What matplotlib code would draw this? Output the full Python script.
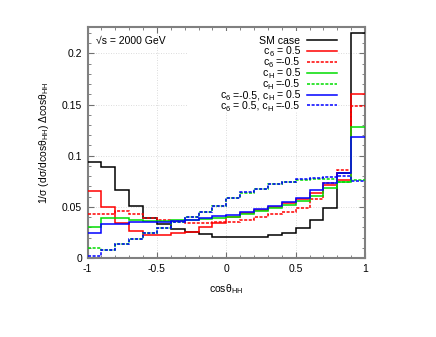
import numpy as np
import matplotlib
matplotlib.use("Agg")
import matplotlib.pyplot as plt
from matplotlib.ticker import MultipleLocator, FuncFormatter
from matplotlib.lines import Line2D
from matplotlib.patches import Rectangle

plt.rcParams['font.family'] = ['Liberation Sans', 'DejaVu Sans']
plt.rcParams['mathtext.fontset'] = 'custom'
plt.rcParams['mathtext.rm'] = 'Liberation Sans'
plt.rcParams['mathtext.it'] = 'Liberation Sans:italic'
plt.rcParams['axes.unicode_minus'] = False

edges = np.linspace(-1, 1, 21)

sm = [0.0935, 0.089, 0.0665, 0.0505, 0.039, 0.033, 0.0283, 0.0257, 0.0231, 0.0208,
      0.0207, 0.0207, 0.021, 0.0222, 0.0247, 0.0295, 0.0375, 0.049, 0.083, 0.22]
c6_p = [0.0658, 0.0502, 0.0345, 0.0261, 0.0225, 0.0225, 0.0244, 0.0257, 0.030, 0.034,
        0.040, 0.044, 0.047, 0.050, 0.054, 0.058, 0.064, 0.071, 0.076, 0.160]
c6_m = [0.043, 0.043, 0.046, 0.043, 0.039, 0.037, 0.036, 0.034, 0.034, 0.035,
        0.0355, 0.037, 0.040, 0.043, 0.045, 0.049, 0.058, 0.073, 0.086, 0.149]
cH_p = [0.0306, 0.0394, 0.0394, 0.037, 0.0365, 0.036, 0.037, 0.037, 0.038, 0.039,
        0.040, 0.043, 0.046, 0.049, 0.052, 0.056, 0.061, 0.068, 0.074, 0.128]
cH_m = [0.0095, 0.0078, 0.0134, 0.0189, 0.0247, 0.0296, 0.035, 0.0404, 0.0446, 0.0508,
        0.059, 0.064, 0.0675, 0.072, 0.0746, 0.0765, 0.077, 0.077, 0.0746, 0.0763]
c6m_cHp = [0.0241, 0.0332, 0.0332, 0.0352, 0.035, 0.035, 0.036, 0.037, 0.039, 0.041,
           0.042, 0.045, 0.048, 0.051, 0.055, 0.059, 0.066, 0.073, 0.083, 0.118]
c6p_cHm = [0.0023, 0.0078, 0.0134, 0.0189, 0.0247, 0.0296, 0.035, 0.0404, 0.0446, 0.0508,
           0.059, 0.0642, 0.0675, 0.0724, 0.0746, 0.0769, 0.0785, 0.0795, 0.080, 0.0756]

# legend labels as (text, is_subscript) pieces
labels = [
    [("SM case", False)],
    [("c", False), ("6", True), (" = 0.5", False)],
    [("c", False), ("6", True), (" =-0.5", False)],
    [("c", False), ("H", True), (" = 0.5", False)],
    [("c", False), ("H", True), (" =-0.5", False)],
    [("c", False), ("6", True), (" =-0.5, c", False), ("H", True), (" = 0.5", False)],
    [("c", False), ("6", True), (" = 0.5, c", False), ("H", True), (" =-0.5", False)],
]
series = [sm, c6_p, c6_m, cH_p, cH_m, c6m_cHp, c6p_cHm]
colors = ['black', '#ff0000', '#ff0000', '#00dd00', '#00dd00', '#0000ff', '#0000ff']
dashed = (0, (2, 1))
styles = ['-', '-', dashed, '-', dashed, '-', dashed]

W, H = 436, 337
fig = plt.figure(figsize=(W/100, H/100), dpi=100)
ax = fig.add_axes([87.5/W, 1-258/H, (365-87.5)/W, (258-27)/H])

for vals, col, ls in zip(series, colors, styles):
    ax.stairs(vals, edges, color=col, linestyle=ls, linewidth=1.1, baseline=None, zorder=3)

ax.set_xlim(-1, 1)
ax.set_ylim(0, 0.2258)
ax.xaxis.set_major_locator(MultipleLocator(0.5))
ax.xaxis.set_minor_locator(MultipleLocator(0.1))
ax.yaxis.set_major_locator(MultipleLocator(0.05))
ax.yaxis.set_minor_locator(MultipleLocator(0.01))
fmt = FuncFormatter(lambda v, p: ('%g' % round(v, 3)))
ax.xaxis.set_major_formatter(fmt)
ax.yaxis.set_major_formatter(fmt)
ax.tick_params(which='both', direction='in', top=True, right=True, color='#707070', labelsize=7.5, pad=4)
ax.tick_params(which='major', length=4)
ax.tick_params(which='minor', length=2)
for s in ax.spines.values():
    s.set_color('#808080')
    s.set_linewidth(1.5)
ax.grid(True, which='major', color='#d0d0d0', linestyle=(0, (1, 2)), linewidth=0.6)
ax.set_axisbelow(True)

ax.set_xlabel(r"cosθ$_\mathrm{HH}$", fontsize=7.5, labelpad=6)
ax.set_ylabel(r"1/σ (dσ/dcosθ$_\mathrm{HH}$) Δcosθ$_\mathrm{HH}$", fontsize=7.5, labelpad=8)

fig.text(96/W, 1-41/H, "√s = 2000 GeV", fontsize=7.5, va='center', ha='left')

# legend (gnuplot style: right-aligned text, sample to the right)
fig.patches.append(Rectangle((188/W, 1-111/H), (338-188)/W, (111-31)/H,
                             transform=fig.transFigure, facecolor='white', edgecolor='none', zorder=1))
renderer = fig.canvas.get_renderer()
MAIN_FS, SUB_FS, SPACE = 7.6, 5.5, 3.1
for i, (col, ls, pieces) in enumerate(zip(colors, styles, labels)):
    yc = 40.0 + 10.9*i          # row centre (px from top)
    base = yc + 3.5             # baseline of main text
    x = 300.0
    for txt, sub in reversed(pieces):
        trail = len(txt) - len(txt.rstrip(' '))
        lead = len(txt) - len(txt.lstrip(' '))
        core = txt.strip(' ')
        x -= trail*SPACE
        if sub:
            t = fig.text(x/W, 1-(base+1.6)/H, core, fontsize=SUB_FS, ha='right', va='baseline', zorder=5)
        else:
            t = fig.text(x/W, 1-base/H, core, fontsize=MAIN_FS, ha='right', va='baseline', zorder=5)
        bb = t.get_window_extent(renderer)
        x = bb.x0 - lead*SPACE
    fig.lines.append(Line2D([307/W, 337/W], [1-yc/H, 1-yc/H], transform=fig.transFigure,
                            color=col, linestyle=ls, linewidth=1.1, zorder=5))

fig.savefig("out.png", dpi=100)
